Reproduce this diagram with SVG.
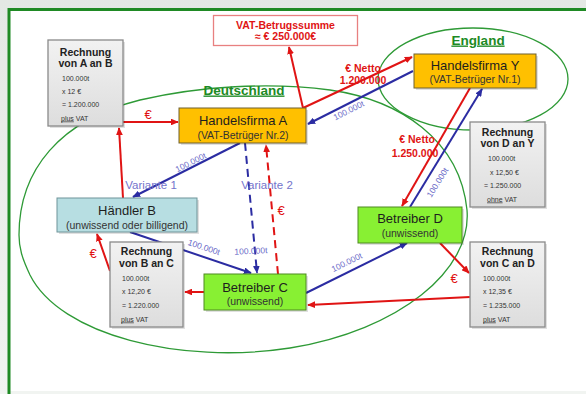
<svg xmlns="http://www.w3.org/2000/svg" width="586" height="394" viewBox="0 0 586 394">
  <defs>
    <style>
      text { font-family: "Liberation Sans", Arial, sans-serif; }
      .region { fill: none; stroke: #2e9a36; stroke-width: 1.3; }
      .rlabel { fill: #1d8a24; font-weight: bold; font-size: 13.5px; text-anchor: middle; text-decoration: underline; }
      .gold { fill: #ffc000; stroke: #6f6030; stroke-width: 1; }
      .lime { fill: #88f033; stroke: #4f8a22; stroke-width: 1; }
      .teal { fill: #b7dee2; stroke: #6f9499; stroke-width: 1; }
      .bill { fill: url(#billGrad); stroke: #8a8a8a; stroke-width: 1.3; }
      .shadow { fill: #000; opacity: 0.12; }
      .t1 { font-size: 13px; fill: #1e1e1e; text-anchor: middle; }
      .t2 { font-size: 10.5px; fill: #333; text-anchor: middle; }
      .bt { font-size: 10.5px; font-weight: bold; fill: #222; text-anchor: middle; }
      .bs { font-size: 7px; fill: #333; }
      .red { stroke: #e01414; stroke-width: 2; fill: none; }
      .blue { stroke: #2b2ca2; stroke-width: 2; fill: none; }
      .dash { stroke-dasharray: 8 5; }
      .rtxt { fill: #e01414; font-weight: bold; font-size: 10.5px; text-anchor: middle; }
      .euro { fill: #e01414; font-size: 13px; text-anchor: middle; }
      .btxt { fill: #6a6ac8; font-size: 8.5px; text-anchor: middle; }
      .var { fill: #7474cc; font-size: 11.5px; text-anchor: middle; }
    </style>
    <linearGradient id="billGrad" x1="0" y1="0" x2="0" y2="1">
      <stop offset="0" stop-color="#f2f2f2"/>
      <stop offset="1" stop-color="#dddddd"/>
    </linearGradient>
    <linearGradient id="topGrad" x1="0" y1="0" x2="0" y2="1">
      <stop offset="0" stop-color="#e4e8e4"/>
      <stop offset="1" stop-color="#f1f4f1"/>
    </linearGradient>
    <marker id="ar" viewBox="0 0 10 10" refX="9" refY="5" markerWidth="4" markerHeight="3.4" orient="auto" markerUnits="strokeWidth" preserveAspectRatio="none">
      <path d="M0,0 L10,5 L0,10 z" fill="#e01414"/>
    </marker>
    <marker id="ab" viewBox="0 0 10 10" refX="9" refY="5" markerWidth="4" markerHeight="3.4" orient="auto" markerUnits="strokeWidth" preserveAspectRatio="none">
      <path d="M0,0 L10,5 L0,10 z" fill="#2b2ca2"/>
    </marker>
  </defs>

  <!-- background and frame -->
  <rect x="0" y="0" width="586" height="394" fill="url(#topGrad)"/>
  <rect x="9" y="9.5" width="590" height="381.5" fill="#ffffff"/>
  <line x1="8" y1="9.5" x2="586" y2="9.5" stroke="#1f8a24" stroke-width="3"/>
  <line x1="9" y1="8" x2="9" y2="394" stroke="#1f8a24" stroke-width="3"/>

  <!-- regions -->
  <g id="deutschland">
    <path class="region" d="M19,235 C19,170 60,120 140,100 C200,86 270,82 330,90 C400,100 460,140 467,210 C472,270 400,330 290,348 C180,365 60,335 30,275 C22,258 19,248 19,235 Z"/>
    <text class="rlabel" x="244" y="94.5">Deutschland</text>
  </g>
  <g id="england">
    <ellipse class="region" cx="473" cy="79" rx="95" ry="51"/>
    <text class="rlabel" x="478" y="44.5">England</text>
  </g>

  <!-- connectors -->
  <g id="connectors">
    <line class="red" x1="123" y1="122" x2="178" y2="122" marker-end="url(#ar)"/>
    <line class="red" x1="123" y1="198" x2="119" y2="128" marker-end="url(#ar)"/>
    <line class="red" x1="303" y1="108" x2="289" y2="47" marker-end="url(#ar)"/>
    <line class="red" x1="303" y1="108" x2="412" y2="57" marker-end="url(#ar)"/>
    <line class="red" x1="470" y1="88" x2="402" y2="206" marker-end="url(#ar)"/>
    <line class="red dash" x1="278" y1="274" x2="266" y2="145" marker-end="url(#ar)"/>
    <line class="red" x1="204" y1="292" x2="185" y2="292" marker-end="url(#ar)"/>
    <line class="red" x1="110" y1="271" x2="97" y2="234" marker-end="url(#ar)"/>
    <line class="red" x1="440" y1="243" x2="469" y2="273" marker-end="url(#ar)"/>
    <line class="red" x1="470" y1="297" x2="308" y2="305" marker-end="url(#ar)"/>

    <line class="blue" x1="413" y1="71" x2="308" y2="124" marker-end="url(#ab)"/>
    <line class="blue" x1="240" y1="143" x2="133" y2="197" marker-end="url(#ab)"/>
    <line class="blue dash" x1="245" y1="143" x2="257" y2="273" marker-end="url(#ab)"/>
    <line class="blue" x1="130" y1="232" x2="251" y2="273" marker-end="url(#ab)"/>
    <line class="blue" x1="306" y1="293" x2="407" y2="243" marker-end="url(#ab)"/>
    <line class="blue" x1="410" y1="207" x2="482" y2="89" marker-end="url(#ab)"/>

    <text class="euro" x="148" y="119">€</text>
    <text class="euro" x="281" y="215">€</text>
    <text class="euro" x="93" y="258">€</text>
    <text class="euro" x="454" y="283">€</text>
    <text class="rtxt" x="363" y="72">€ Netto</text>
    <text class="rtxt" x="363" y="84">1.200.000</text>
    <text class="rtxt" x="417" y="143">€ Netto</text>
    <text class="rtxt" x="415" y="157">1.250.000</text>

    <text class="btxt" transform="translate(350,113) rotate(-26.6)">100.000t</text>
    <text class="btxt" transform="translate(192,165) rotate(-26.6)">100.000t</text>
    <text class="btxt" transform="translate(251,254) rotate(-3)">100.000t</text>
    <text class="btxt" transform="translate(203,250) rotate(18.6)">100.000t</text>
    <text class="btxt" transform="translate(348,265) rotate(-26)">100.000t</text>
    <text class="btxt" transform="translate(440,184) rotate(-58.5)">100.000t</text>

    <text class="var" x="151" y="189">Variante 1</text>
    <text class="var" x="267" y="189">Variante 2</text>
  </g>

  <!-- nodes -->
  <g id="vat-summe">
    <rect x="213.5" y="15.5" width="144" height="30" fill="#ffffff" stroke="#e88080" stroke-width="1.3"/>
    <text class="rtxt" x="285.5" y="29">VAT-Betrugssumme</text>
    <text class="rtxt" x="285.5" y="40">≈ € 250.000€</text>
  </g>

  <g id="rechnung-ab">
    <rect class="shadow" x="50" y="42" width="75" height="86"/>
    <rect class="bill" x="48" y="40" width="75" height="86"/>
    <text class="bt" x="85.5" y="55.5">Rechnung</text>
    <text class="bt" x="85.5" y="67">von A an B</text>
    <text class="bs" x="62" y="80.5">100.000t</text>
    <text class="bs" x="62" y="93.5">x 12 €</text>
    <text class="bs" x="62" y="107">= 1.200.000</text>
    <text class="bs" x="61" y="120.5"><tspan text-decoration="underline">plus</tspan> VAT</text>
  </g>

  <g id="handelsfirma-a">
    <rect class="shadow" x="181" y="110" width="127" height="35"/>
    <rect class="gold" x="179" y="108" width="127" height="35"/>
    <text class="t1" x="243" y="124.5">Handelsfirma A</text>
    <text class="t2" x="243" y="138.5">(VAT-Betrüger Nr.2)</text>
  </g>

  <g id="handelsfirma-y">
    <rect class="shadow" x="416" y="56" width="122" height="34"/>
    <rect class="gold" x="414" y="54" width="122" height="34"/>
    <text class="t1" x="475" y="69.5">Handelsfirma Y</text>
    <text class="t2" x="475" y="83">(VAT-Betrüger Nr.1)</text>
  </g>

  <g id="rechnung-dy">
    <rect class="shadow" x="472" y="124" width="75" height="85"/>
    <rect class="bill" x="470" y="122" width="75" height="85"/>
    <text class="bt" x="507.5" y="135.5">Rechnung</text>
    <text class="bt" x="507.5" y="147">von D an Y</text>
    <text class="bs" x="488" y="161">100.000t</text>
    <text class="bs" x="490" y="174.5">x 12,50 €</text>
    <text class="bs" x="484" y="188">= 1.250.000</text>
    <text class="bs" x="487" y="201.5"><tspan text-decoration="underline">ohne</tspan> VAT</text>
  </g>

  <g id="haendler-b">
    <rect class="shadow" x="59" y="200" width="140" height="34"/>
    <rect class="teal" x="57" y="198" width="140" height="34"/>
    <text class="t1" x="127" y="214.5">Händler B</text>
    <text class="t2" x="127" y="228.5">(unwissend oder billigend)</text>
  </g>

  <g id="betreiber-d">
    <rect class="shadow" x="360" y="209" width="104" height="36"/>
    <rect class="lime" x="358" y="207" width="104" height="36"/>
    <text class="t1" x="410" y="222.5">Betreiber D</text>
    <text class="t2" x="410" y="237">(unwissend)</text>
  </g>

  <g id="rechnung-bc">
    <rect class="shadow" x="112" y="244" width="73" height="85"/>
    <rect class="bill" x="110" y="242" width="73" height="85"/>
    <text class="bt" x="146.5" y="254.5">Rechnung</text>
    <text class="bt" x="146.5" y="267">von B an C</text>
    <text class="bs" x="122" y="280.5">100.000t</text>
    <text class="bs" x="122" y="294">x 12,20 €</text>
    <text class="bs" x="122" y="308">= 1.220.000</text>
    <text class="bs" x="121" y="321.5"><tspan text-decoration="underline">plus</tspan> VAT</text>
  </g>

  <g id="betreiber-c">
    <rect class="shadow" x="206" y="276" width="102" height="36"/>
    <rect class="lime" x="204" y="274" width="102" height="36"/>
    <text class="t1" x="255" y="291.5">Betreiber C</text>
    <text class="t2" x="255" y="305">(unwissend)</text>
  </g>

  <g id="rechnung-cd">
    <rect class="shadow" x="472" y="244" width="75" height="85"/>
    <rect class="bill" x="470" y="242" width="75" height="85"/>
    <text class="bt" x="507.5" y="254.5">Rechnung</text>
    <text class="bt" x="507.5" y="267">von C an D</text>
    <text class="bs" x="483" y="280.5">100.000t</text>
    <text class="bs" x="483" y="294">x 12,35 €</text>
    <text class="bs" x="483" y="308">= 1.235.000</text>
    <text class="bs" x="483" y="321.5"><tspan text-decoration="underline">plus</tspan> VAT</text>
  </g>
</svg>
